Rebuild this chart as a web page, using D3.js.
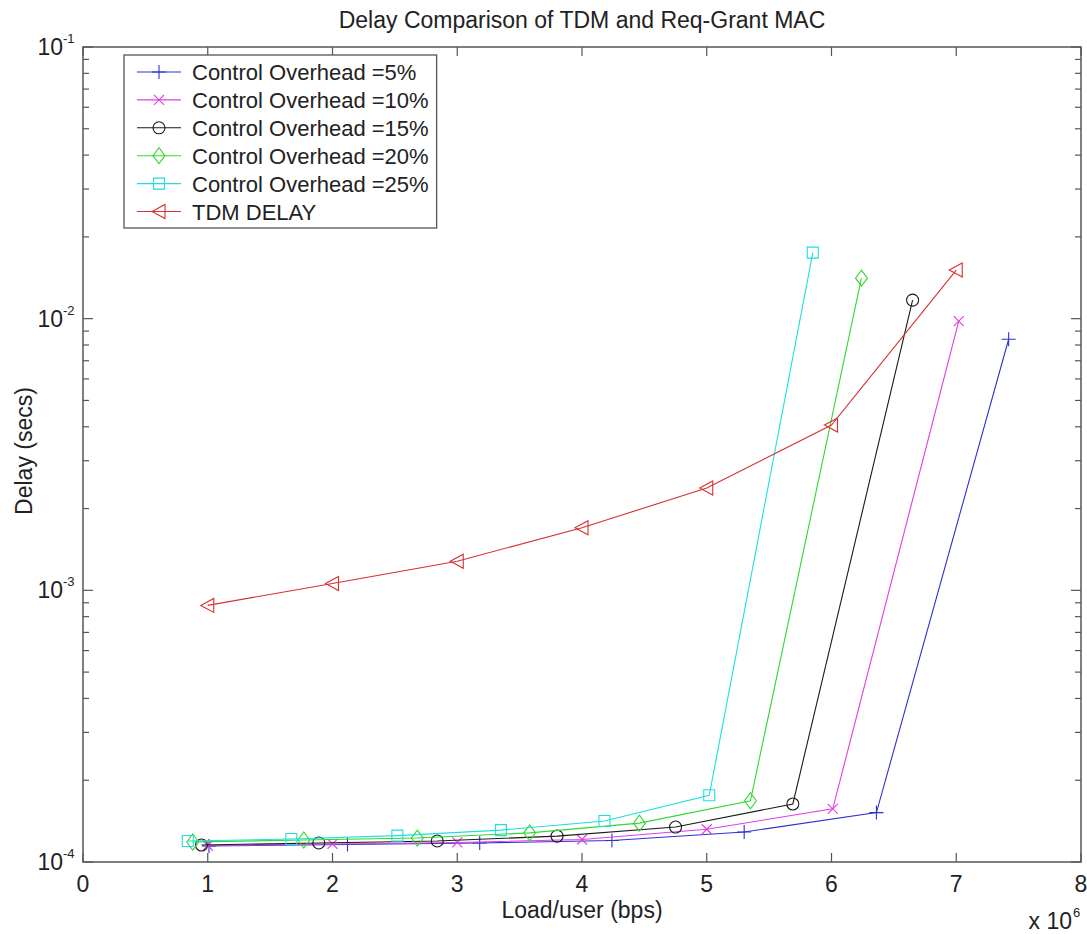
<!DOCTYPE html>
<html lang="en">
<head>
<meta charset="utf-8">
<title>Delay Comparison of TDM and Req-Grant MAC</title>
<script src="https://d3js.org/d3.v7.js"></script>
<style>
    body { margin: 0; background: #fff; }
    svg { font-family: "Liberation Sans", Arial, sans-serif; }
    .frame { fill: none; stroke: #555; stroke-width: 1.5px; }
    .tick line { stroke: #555; stroke-width: 1.2px; }
    .series { fill: none; stroke-width: 1.1px; }
</style>
</head>
<body>
<svg width="1087" height="934"></svg>
<script type="text/javascript">
    // load per user in bps, delay in seconds
    let loadCO5  = [1.01e6, 2.12e6, 3.18e6, 4.24e6, 5.30e6, 6.36e6, 7.42e6];
    let delayCO5 = [1.145e-4, 1.16e-4, 1.175e-4, 1.20e-4, 1.29e-4, 1.52e-4, 8.4e-3];

    let loadCO10  = [1.0e6, 2.0e6, 3.0e6, 4.0e6, 5.0e6, 6.01e6, 7.02e6];
    let delayCO10 = [1.15e-4, 1.165e-4, 1.18e-4, 1.21e-4, 1.32e-4, 1.57e-4, 9.8e-3];

    let loadCO15  = [0.95e6, 1.89e6, 2.84e6, 3.80e6, 4.75e6, 5.69e6, 6.65e6];
    let delayCO15 = [1.155e-4, 1.175e-4, 1.195e-4, 1.245e-4, 1.345e-4, 1.635e-4, 1.17e-2];

    let loadCO20  = [0.88e6, 1.77e6, 2.68e6, 3.58e6, 4.46e6, 5.35e6, 6.24e6];
    let delayCO20 = [1.185e-4, 1.205e-4, 1.225e-4, 1.28e-4, 1.39e-4, 1.68e-4, 1.41e-2];

    let loadCO25  = [0.84e6, 1.67e6, 2.52e6, 3.35e6, 4.18e6, 5.02e6, 5.85e6];
    let delayCO25 = [1.195e-4, 1.215e-4, 1.25e-4, 1.31e-4, 1.415e-4, 1.76e-4, 1.75e-2];

    let loadTDM  = [1e6, 2e6, 3e6, 4e6, 5e6, 6e6, 7e6];
    let delayTDM = [8.8e-4, 1.06e-3, 1.28e-3, 1.70e-3, 2.38e-3, 4.06e-3, 1.51e-2];

    let seriesNames = ["Control Overhead =5%", "Control Overhead =10%", "Control Overhead =15%",
        "Control Overhead =20%", "Control Overhead =25%", "TDM DELAY"];
    let seriesColors = ["#2f2fd2", "#e23de2", "#1a1a1a", "#2fd82f", "#1fdede", "#d83030"];
    let seriesMarkers = ["plus", "cross", "circle", "diamond", "square", "triangleLeft"];

    let xTicks = [0, 1, 2, 3, 4, 5, 6, 7, 8];
    let yDecades = [-4, -3, -2, -1];

    let series = [
        {load: loadCO5, delay: delayCO5},
        {load: loadCO10, delay: delayCO10},
        {load: loadCO15, delay: delayCO15},
        {load: loadCO20, delay: delayCO20},
        {load: loadCO25, delay: delayCO25},
        {load: loadTDM, delay: delayTDM}
    ].map(function (s, i) {
        return {
            name: seriesNames[i], color: seriesColors[i], marker: seriesMarkers[i],
            points: s.load.map(function (l, j) { return [l, s.delay[j]]; })
        };
    });

    let svg = d3.select("svg");
    let plotLeft = 83, plotRight = 1081, plotTop = 47, plotBottom = 862;

    let x = d3.scaleLinear().domain([0, 8e6]).range([plotLeft, plotRight]);
    let y = d3.scaleLog().domain([1e-4, 1e-1]).range([plotBottom, plotTop]);

    // marker path generators, centred on 0,0
    function markerPath(type) {
        switch (type) {
            case "plus": return "M-7,0H7M0,-7V7";
            case "cross": return "M-5,-5L5,5M-5,5L5,-5";
            case "circle": return "M6,0A6,6 0 1,1 -6,0A6,6 0 1,1 6,0Z";
            case "diamond": return "M0,-8L6,0L0,8L-6,0Z";
            case "square": return "M-5.5,-5.5H5.5V5.5H-5.5Z";
            case "triangleLeft": return "M-7,0L6,-7V7Z";
        }
    }

    // minor log ticks 2..9 per decade
    let minorTicks = [];
    yDecades.slice(0, 3).forEach(function (k) {
        for (let m = 2; m <= 9; m++) minorTicks.push(m * Math.pow(10, k));
    });
    let majorTicks = yDecades.map(function (k) { return Math.pow(10, k); });

    let ticks = svg.append("g").attr("class", "tick");
    // x ticks, bottom and top, pointing inward
    xTicks.forEach(function (t) {
        let px = x(t * 1e6);
        ticks.append("line").attr("x1", px).attr("x2", px).attr("y1", plotBottom).attr("y2", plotBottom - 9);
        ticks.append("line").attr("x1", px).attr("x2", px).attr("y1", plotTop).attr("y2", plotTop + 9);
    });
    majorTicks.forEach(function (t) {
        ticks.append("line").attr("x1", plotLeft).attr("x2", plotLeft + 10).attr("y1", y(t)).attr("y2", y(t));
        ticks.append("line").attr("x1", plotRight).attr("x2", plotRight - 10).attr("y1", y(t)).attr("y2", y(t));
    });
    minorTicks.forEach(function (t) {
        ticks.append("line").attr("x1", plotLeft).attr("x2", plotLeft + 6).attr("y1", y(t)).attr("y2", y(t));
        ticks.append("line").attr("x1", plotRight).attr("x2", plotRight - 6).attr("y1", y(t)).attr("y2", y(t));
    });

    svg.append("rect").attr("class", "frame")
        .attr("x", plotLeft).attr("y", plotTop)
        .attr("width", plotRight - plotLeft).attr("height", plotBottom - plotTop);

    // x tick labels
    svg.append("g").selectAll("text")
        .data(xTicks)
        .join("text")
        .attr("x", function (d) { return x(d * 1e6); })
        .attr("y", 892)
        .attr("text-anchor", "middle")
        .attr("font-size", 23)
        .attr("fill", "#222")
        .text(function (d) { return d; });

    // y tick labels, 10^k
    svg.append("g").selectAll("text")
        .data(yDecades)
        .join("text")
        .attr("x", 63)
        .attr("y", function (d) { return y(Math.pow(10, d)) + 8; })
        .attr("text-anchor", "end")
        .attr("font-size", 23)
        .attr("fill", "#222")
        .text("10");
    svg.append("g").selectAll("text")
        .data(yDecades)
        .join("text")
        .attr("x", 63)
        .attr("y", function (d) { return y(Math.pow(10, d)) - 4; })
        .attr("font-size", 13)
        .attr("fill", "#222")
        .text(function (d) { return "-" + Math.abs(d); });

    // titles
    svg.append("text").attr("x", (plotLeft + plotRight) / 2).attr("y", 28)
        .attr("text-anchor", "middle").attr("font-size", 23).attr("fill", "#222")
        .text("Delay Comparison of TDM and Req-Grant MAC");
    svg.append("text").attr("x", (plotLeft + plotRight) / 2).attr("y", 918)
        .attr("text-anchor", "middle").attr("font-size", 23).attr("fill", "#222")
        .text("Load/user (bps)");
    svg.append("text").attr("transform", "translate(32,451) rotate(-90)")
        .attr("text-anchor", "middle").attr("font-size", 23).attr("fill", "#222")
        .text("Delay (secs)");
    svg.append("text").attr("x", 1072).attr("y", 929)
        .attr("text-anchor", "end").attr("font-size", 23).attr("fill", "#222")
        .text("x 10");
    svg.append("text").attr("x", 1073).attr("y", 917)
        .attr("font-size", 13).attr("fill", "#222")
        .text("6");

    // series lines and markers
    let line = d3.line()
        .x(function (d) { return x(d[0]); })
        .y(function (d) { return y(d[1]); });

    let plot = svg.append("g");
    series.forEach(function (s) {
        let g = plot.append("g");
        g.append("path").attr("class", "series")
            .attr("d", line(s.points))
            .attr("stroke", s.color);
        g.selectAll("path.mk")
            .data(s.points)
            .join("path")
            .attr("class", "mk")
            .attr("d", markerPath(s.marker))
            .attr("transform", function (d) { return "translate(" + x(d[0]) + "," + y(d[1]) + ")"; })
            .attr("fill", "none")
            .attr("stroke", s.color)
            .attr("stroke-width", 1.1);
    });

    // legend
    let legend = svg.append("g");
    let legendBox = legend.append("rect")
        .attr("x", 124).attr("y", 55)
        .attr("height", 173)
        .attr("fill", "#fff").attr("stroke", "#555").attr("stroke-width", 1.3);
    let maxW = 0;
    series.forEach(function (s, i) {
        let cy = 72 + i * 27.9;
        legend.append("line").attr("x1", 137).attr("x2", 181).attr("y1", cy).attr("y2", cy)
            .attr("stroke", s.color).attr("stroke-width", 1.1);
        legend.append("path").attr("d", markerPath(s.marker))
            .attr("transform", "translate(159," + cy + ")")
            .attr("fill", "none").attr("stroke", s.color).attr("stroke-width", 1.1);
        let t = legend.append("text").attr("x", 192).attr("y", cy + 8)
            .attr("font-size", 22).attr("fill", "#222")
            .text(s.name);
        maxW = Math.max(maxW, t.node().getComputedTextLength());
    });
    legendBox.attr("width", 192 + maxW + 8 - 124);
</script>
</body>
</html>
